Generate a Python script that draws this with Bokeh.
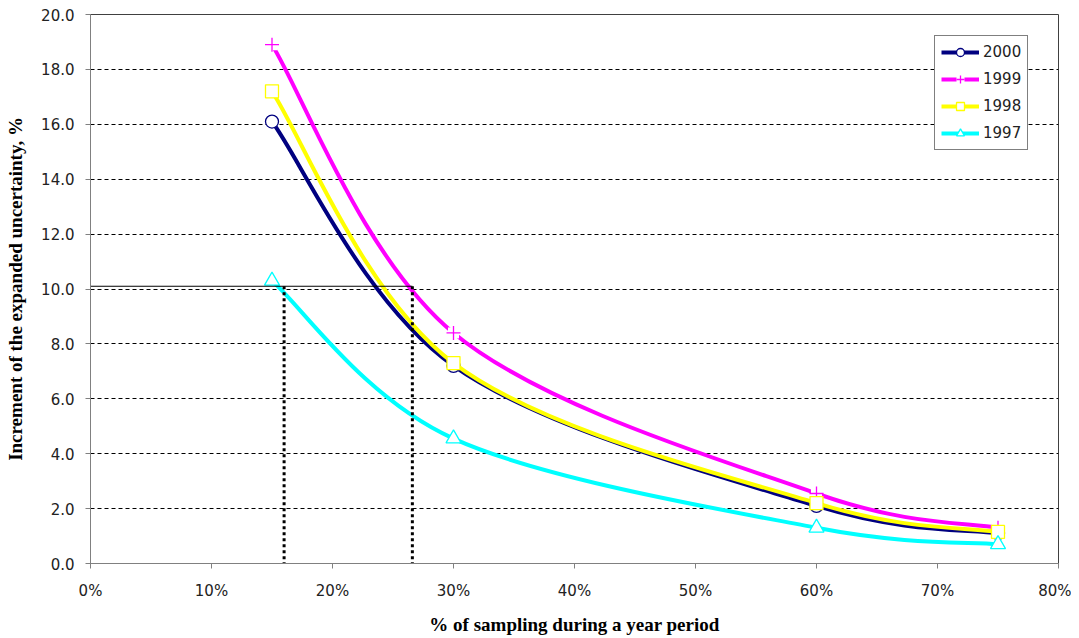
from bokeh.plotting import figure
from bokeh.models import Range1d, FixedTicker, NumeralTickFormatter, Legend, LegendItem, ColumnDataSource
from bokeh.embed import file_html
from bokeh.resources import INLINE

# ---- data ----
sampling = [0.15, 0.30, 0.60, 0.75]
y2000 = [16.1, 7.2, 2.1, 1.1]
y1999 = [18.9, 8.4, 2.55, 1.3]
y1998 = [17.2, 7.3, 2.2, 1.15]
y1997 = [10.3, 4.55, 1.3, 0.7]
series_names = ["2000", "1999", "1998", "1997"]
x_ticks = [0.0, 0.1, 0.2, 0.3, 0.4, 0.5, 0.6, 0.7, 0.8]
y_ticks = [0, 2, 4, 6, 8, 10, 12, 14, 16, 18, 20]
threshold = 10.1
marker_x_low = 0.16
marker_x_high = 0.266

colors = {"2000": "#000080", "1999": "#FF00FF", "1998": "#FFFF00", "1997": "#00FFFF"}
values = {"2000": y2000, "1999": y1999, "1998": y1998, "1997": y1997}


def smooth_controls(xs, ys):
    """Bezier control points (Excel-style Catmull-Rom smoothing) from data."""
    n = len(xs)
    out = dict(x0=[], y0=[], x1=[], y1=[], cx0=[], cy0=[], cx1=[], cy1=[])
    for i in range(n - 1):
        a = i - 1 if i > 0 else i
        d = i + 2 if i + 2 < n else i + 1
        out["x0"].append(xs[i]); out["y0"].append(ys[i])
        out["x1"].append(xs[i + 1]); out["y1"].append(ys[i + 1])
        out["cx0"].append(xs[i] + (xs[i + 1] - xs[a]) / 6.0)
        out["cy0"].append(ys[i] + (ys[i + 1] - ys[a]) / 6.0)
        out["cx1"].append(xs[i + 1] - (xs[d] - xs[i]) / 6.0)
        out["cy1"].append(ys[i + 1] - (ys[d] - ys[i]) / 6.0)
    return out


p = figure(width=1071, height=638, output_backend="svg", toolbar_location=None,
           x_range=Range1d(0, 0.8), y_range=Range1d(0, 20),
           min_border_left=90, min_border_right=13, min_border_top=14, min_border_bottom=75)

p.background_fill_color = "white"
p.border_fill_color = "white"
p.outline_line_color = "#404040"
p.outline_line_width = 1

p.xgrid.visible = False
p.ygrid.grid_line_color = "black"
p.ygrid.grid_line_dash = "4 3"
p.ygrid.grid_line_width = 1
p.ygrid.ticker = FixedTicker(ticks=y_ticks)

p.xaxis.ticker = FixedTicker(ticks=x_ticks)
p.yaxis.ticker = FixedTicker(ticks=y_ticks)
p.xaxis.formatter = NumeralTickFormatter(format="0%")
p.yaxis.formatter = NumeralTickFormatter(format="0.0")
for ax in (p.xaxis, p.yaxis):
    ax.axis_line_color = "#808080"
    ax.major_tick_line_color = "#808080"
    ax.major_tick_out = 5
    ax.major_tick_in = 0
    ax.minor_tick_line_color = None
    ax.major_label_text_font = "DejaVu Sans"
    ax.major_label_text_font_size = "15px"
    ax.major_label_text_color = "#222222"
    ax.axis_label_text_font = "Liberation Serif"
    ax.axis_label_text_font_style = "bold"
    ax.axis_label_text_font_size = "19px"
    ax.axis_label_text_color = "black"
p.xaxis.axis_label = "% of sampling during a year period"
p.yaxis.axis_label = "Increment of the expanded uncertainty, %"
p.yaxis.major_label_standoff = 11
p.xaxis.major_label_standoff = 13
p.yaxis.axis_label_standoff = 12
p.xaxis.axis_label_standoff = 11

items = []
for name in series_names:
    ys = values[name]
    col = colors[name]
    src = ColumnDataSource(smooth_controls(sampling, ys))
    r_line = p.bezier(x0="x0", y0="y0", x1="x1", y1="y1", cx0="cx0", cy0="cy0",
                      cx1="cx1", cy1="cy1", source=src, line_color=col, line_width=4)
    rs = [r_line]
    if name == "2000":
        rs.append(p.scatter(sampling, ys, marker="circle", size=13, fill_color="white",
                            line_color=col, line_width=1.3))
    elif name == "1999":
        rs.append(p.scatter(sampling, ys, marker="square", size=11, fill_color="white",
                            line_color=None))
        rs.append(p.scatter(sampling, ys, marker="cross", size=14, line_color=col,
                            line_width=1.3))
    elif name == "1998":
        rs.append(p.scatter(sampling, ys, marker="square", size=13, fill_color="white",
                            line_color=col, line_width=1.3))
    else:
        rs.append(p.scatter(sampling, ys, marker="triangle", size=15, fill_color="white",
                            line_color=col, line_width=1.3))
    items.append(LegendItem(label=name, renderers=rs))

# reference lines
p.segment(x0=[0.0], y0=[threshold], x1=[marker_x_high], y1=[threshold],
          line_color="black", line_width=1.2)
p.segment(x0=[marker_x_low, marker_x_high], y0=[threshold, threshold],
          x1=[marker_x_low, marker_x_high], y1=[0, 0],
          line_color="black", line_width=3, line_dash="3 3")

legend = Legend(items=items, location=(844, 413))
legend.glyph_width = 38
legend.glyph_height = 20
legend.label_height = 20
legend.spacing = 7
legend.padding = 6
legend.margin = 0
legend.label_standoff = 4
legend.label_text_font = "DejaVu Sans"
legend.label_text_font_size = "15px"
legend.label_text_color = "#222222"
legend.border_line_color = "black"
legend.border_line_width = 1
legend.background_fill_color = "white"
legend.background_fill_alpha = 1
p.add_layout(legend)

open("out.html", "w").write(file_html(p, INLINE))
